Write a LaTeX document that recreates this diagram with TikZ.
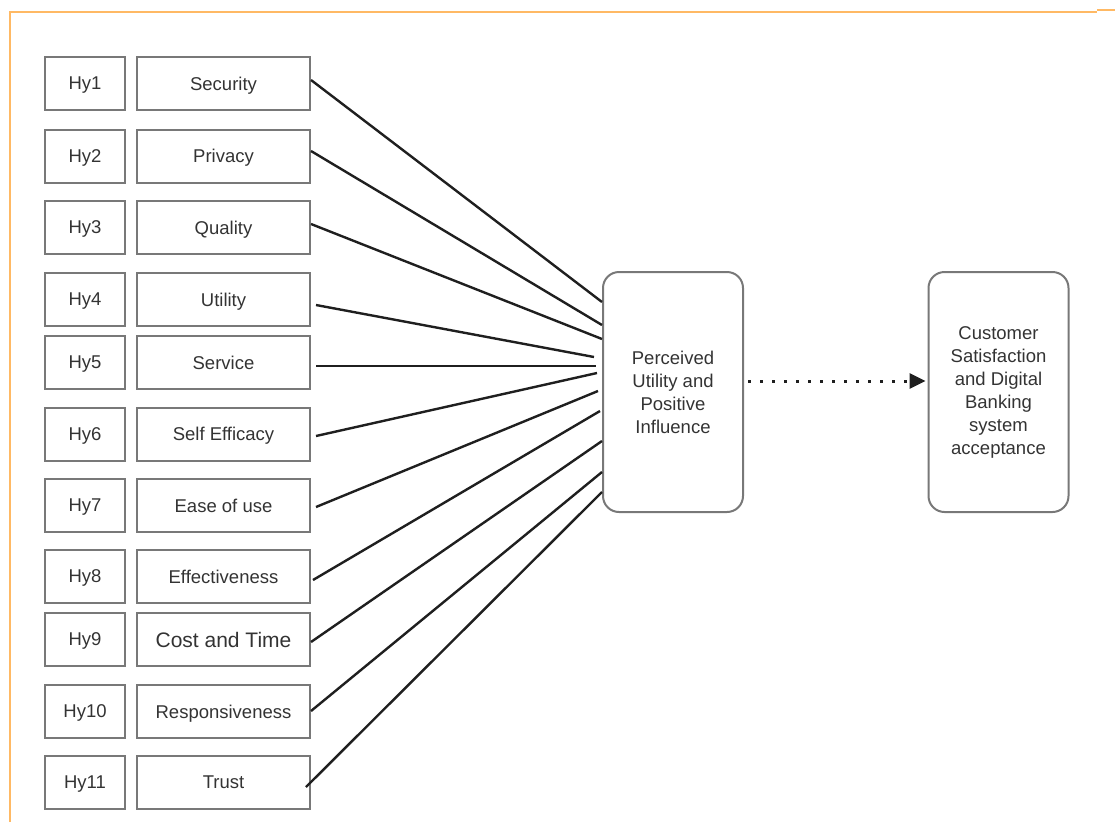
\documentclass[tikz,border=0pt]{standalone}
\usepackage{fontspec}
\setmainfont{Liberation Sans}
\usetikzlibrary{arrows.meta}
\definecolor{frameorange}{RGB}{255,185,100}
\definecolor{boxgray}{RGB}{120,120,120}
\tikzset{
  hybox/.style={draw=boxgray, line width=2pt, minimum width=80pt, minimum height=53pt, inner sep=0pt, text depth=0pt, font=\fontsize{18.5}{22}\selectfont, text=black!80},
  factbox/.style={draw=boxgray, line width=2pt, minimum width=173pt, minimum height=53pt, inner sep=0pt, text depth=0pt, font=\fontsize{18.5}{22}\selectfont, text=black!80},
  bigbox/.style={draw=boxgray, line width=2pt, rounded corners=16pt, minimum width=140pt, minimum height=240pt, inner sep=0pt, align=center, font=\fontsize{18.5}{23}\selectfont, text=black!80},
  link/.style={draw=black!88, line width=2.4pt},
}
\begin{document}
\begin{tikzpicture}[x=1pt,y=-1pt]
\useasboundingbox (0,0) rectangle (1115,836);
\draw[frameorange, line width=2.6pt] (10,822) -- (10,12) -- (1097,12);
\draw[frameorange, line width=2.6pt] (1097,10) -- (1115,10);
% rows
\foreach \i/\y/\t in {1/83.5/Security,2/156/Privacy,3/227.5/Quality,4/299.5/Utility,5/362.5/Service,6/434/Self Efficacy,7/505.5/Ease of use,8/576.5/Effectiveness,10/711.5/Responsiveness,11/782.5/Trust}{
  \node[hybox] (h\i) at (85,\y) {Hy\i};
  \node[factbox] (f\i) at (223.5,\y) {\t};
}
\node[hybox] (h9) at (85,639.5) {Hy9};
\node[factbox, font=\fontsize{21}{24}\selectfont] (f9) at (223.5,639.5) {Cost and Time};
\node[bigbox] (pu) at (673,392) {Perceived\\Utility and\\Positive\\Influence};
\node[bigbox] (cs) at (998.5,392) {Customer\\Satisfaction\\and Digital\\Banking\\system\\acceptance};
\draw[link] (f1.east |- 0,80) -- (pu.west |- 0,302);
\draw[link] (f2.east |- 0,151) -- (pu.west |- 0,325);
\draw[link] (f3.east |- 0,224) -- (pu.west |- 0,339);
\draw[link] ([xshift=5pt]f4.east |- 0,305) -- ([xshift=-8pt]pu.west |- 0,357);
\draw[link] ([xshift=5pt]f5.east |- 0,366) -- ([xshift=-6pt]pu.west |- 0,366);
\draw[link] ([xshift=5pt]f6.east |- 0,436) -- ([xshift=-5pt]pu.west |- 0,373);
\draw[link] ([xshift=5pt]f7.east |- 0,507) -- ([xshift=-4pt]pu.west |- 0,391);
\draw[link] ([xshift=2pt]f8.east |- 0,580) -- ([xshift=-2pt]pu.west |- 0,411);
\draw[link] (f9.east |- 0,642) -- (pu.west |- 0,441);
\draw[link] (f10.east |- 0,711) -- (pu.west |- 0,472);
\draw[link] ([xshift=-5pt]f11.east |- 0,787) -- (pu.west |- 0,492);
\draw[black!88, line width=3pt, dash pattern=on 3pt off 9pt, -{Triangle[length=16pt,width=15pt]}] ([xshift=4pt]pu.east |- 0,381) -- ([xshift=-2pt]cs.west |- 0,381);
\end{tikzpicture}
\end{document}
